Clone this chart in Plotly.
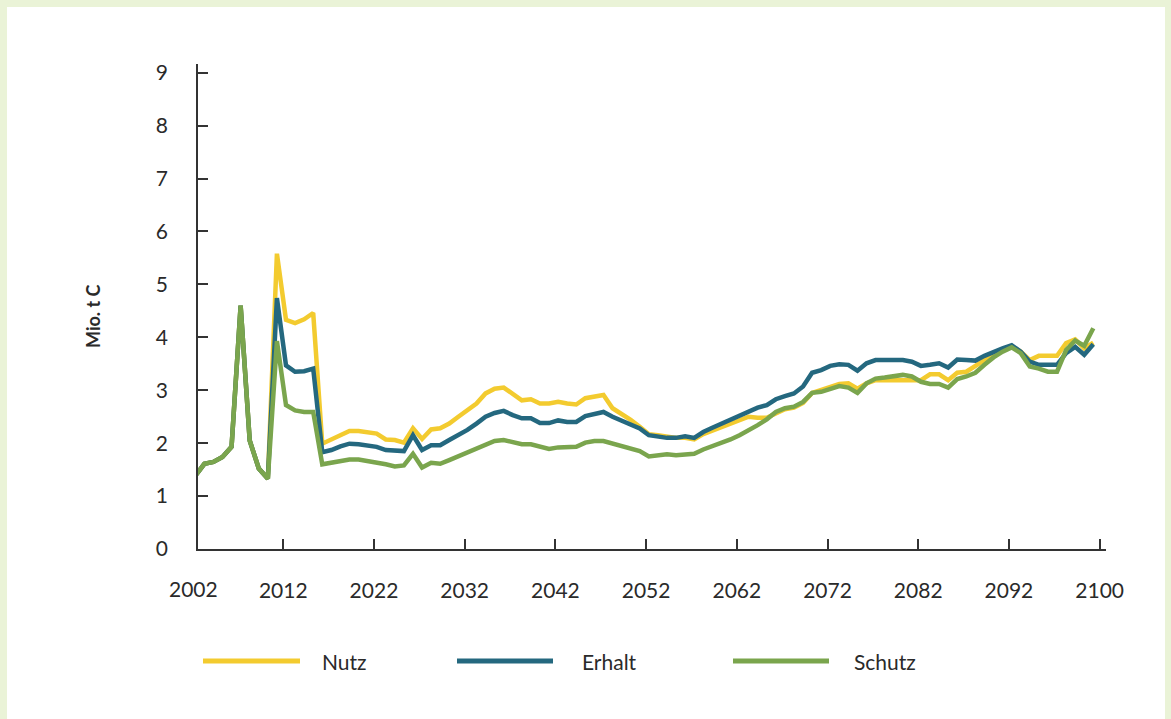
import plotly.graph_objects as go

years = list(range(2002, 2102))

nutz = [1.38, 1.61, 1.645, 1.74, 1.93, 4.60, 2.05, 1.52, 1.33,
        5.58, 4.33, 4.27, 4.34, 4.46, 1.99, 2.07, 2.15, 2.23, 2.23, 2.21,
        2.18, 2.07, 2.06, 2.01, 2.28, 2.08, 2.26, 2.28, 2.37, 2.50,
        2.62, 2.75, 2.94, 3.03, 3.05, 2.93, 2.81, 2.83, 2.75, 2.75,
        2.78, 2.75, 2.73, 2.85, 2.89, 2.91, 2.66, 2.56, 2.44, 2.31,
        2.17, 2.15, 2.12, 2.10, 2.10, 2.07, 2.17, 2.24, 2.31, 2.38,
        2.45, 2.50, 2.48, 2.48, 2.56, 2.64, 2.67, 2.76, 2.95, 3.00,
        3.07, 3.12, 3.13, 3.03, 3.13, 3.19, 3.19, 3.19, 3.21, 3.19,
        3.19, 3.30, 3.30, 3.19, 3.33, 3.35, 3.45, 3.57, 3.70, 3.77,
        3.83, 3.73, 3.57, 3.65, 3.65, 3.65, 3.89, 3.96, 3.79, 3.90]

erhalt = [1.38, 1.61, 1.645, 1.74, 1.93, 4.60, 2.05, 1.52, 1.33,
          4.74, 3.47, 3.35, 3.36, 3.41, 1.83, 1.87, 1.94, 1.99, 1.98, 1.95,
          1.93, 1.87, 1.87, 1.85, 2.15, 1.87, 1.96, 1.96, 2.06, 2.15,
          2.25, 2.37, 2.50, 2.57, 2.61, 2.53, 2.47, 2.47, 2.38, 2.38,
          2.43, 2.40, 2.40, 2.51, 2.55, 2.59, 2.50, 2.42, 2.36, 2.28,
          2.15, 2.12, 2.10, 2.10, 2.13, 2.10, 2.21, 2.29, 2.37, 2.45,
          2.53, 2.60, 2.67, 2.72, 2.83, 2.89, 2.94, 3.07, 3.33, 3.38,
          3.46, 3.49, 3.48, 3.37, 3.51, 3.57, 3.57, 3.58, 3.57, 3.54,
          3.46, 3.48, 3.51, 3.43, 3.58, 3.57, 3.56, 3.65, 3.73, 3.79,
          3.85, 3.73, 3.54, 3.48, 3.48, 3.48, 3.70, 3.82, 3.67, 3.87]

schutz = [1.38, 1.61, 1.645, 1.74, 1.93, 4.60, 2.05, 1.52, 1.33,
          3.93, 2.72, 2.62, 2.59, 2.59, 1.60, 1.63, 1.66, 1.69, 1.69, 1.66,
          1.645, 1.60, 1.56, 1.58, 1.80, 1.54, 1.63, 1.61, 1.68, 1.75,
          1.84, 1.89, 1.98, 2.04, 2.06, 2.02, 1.98, 1.98, 1.93, 1.89,
          1.92, 1.93, 1.93, 2.01, 2.04, 2.04, 1.99, 1.94, 1.90, 1.85,
          1.75, 1.77, 1.79, 1.77, 1.79, 1.80, 1.88, 1.94, 1.99, 2.07,
          2.15, 2.24, 2.34, 2.45, 2.59, 2.66, 2.69, 2.78, 2.95, 2.97,
          3.02, 3.08, 3.05, 2.95, 3.13, 3.22, 3.24, 3.27, 3.29, 3.26,
          3.16, 3.12, 3.12, 3.05, 3.21, 3.26, 3.33, 3.48, 3.62, 3.73,
          3.81, 3.70, 3.45, 3.41, 3.35, 3.35, 3.76, 3.94, 3.84, 4.17]

tick_pos = [2011.7, 2021.7, 2031.7, 2041.7, 2051.7, 2061.7, 2071.7, 2081.7, 2091.7, 2101.7]
tick_text = ["2012", "2022", "2032", "2042", "2052", "2062", "2072", "2082", "2092", "2100"]
first_tick_text = "2002"

y_ticks = [0, 1, 2, 3, 4, 5, 6, 7, 8, 9]

series = [("Nutz", nutz, "#F3CB2F"), ("Erhalt", erhalt, "#24687F"), ("Schutz", schutz, "#7AA54D")]

FONT = "Lato, 'Open Sans', sans-serif"
TXT = "#2a2a2a"

fig = go.Figure()
for name, vals, col in series:
    fig.add_trace(go.Scatter(x=years, y=vals, name=name, mode="lines",
                             line=dict(color=col, width=4.5), showlegend=False))

W, H = 1171, 719
L, R, T, B = 198, 1106, 64, 549

def px2paper_x(px):
    return (px - L) / (R - L)

def px2paper_y(py):
    return (B - py) / (B - T)

shapes = []
shapes.append(dict(type="rect", xref="paper", yref="paper", layer="below",
                   x0=px2paper_x(7), x1=px2paper_x(1165), y0=px2paper_y(719), y1=px2paper_y(7),
                   fillcolor="white", line=dict(width=0)))

annotations = []
leg = [(203, 300, 320), (457, 553, 580), (733, 829, 852)]
for (x0, x1, xt), (name, _, col) in zip(leg, series):
    shapes.append(dict(type="line", xref="paper", yref="paper",
                       x0=px2paper_x(x0), x1=px2paper_x(x1), y0=px2paper_y(661), y1=px2paper_y(661),
                       line=dict(color=col, width=5)))
    annotations.append(dict(xref="paper", yref="paper", x=px2paper_x(xt), y=px2paper_y(661),
                            text=name, showarrow=False, xanchor="left", yanchor="middle",
                            font=dict(family=FONT, size=21, color=TXT)))

annotations.append(dict(xref="paper", yref="paper", x=px2paper_x(193), y=px2paper_y(574),
                        text=first_tick_text, showarrow=False, xanchor="center", yanchor="top",
                        font=dict(family=FONT, size=21, color=TXT)))
annotations.append(dict(xref="paper", yref="paper", x=px2paper_x(93), y=px2paper_y(316),
                        text="<b>Mio. t C</b>", showarrow=False, textangle=-90,
                        xanchor="center", yanchor="middle",
                        font=dict(family=FONT, size=18, color=TXT)))

fig.update_layout(
    width=W, height=H,
    margin=dict(l=L, r=W - R, t=T, b=H - B),
    paper_bgcolor="#EAF3D7",
    plot_bgcolor="white",
    shapes=shapes,
    annotations=annotations,
    xaxis=dict(range=[2002.3, 2102.4], tickmode="array", tickvals=tick_pos, ticktext=tick_text,
               showgrid=False, zeroline=False, showline=True, linecolor="#333", linewidth=1.5,
               ticks="inside", ticklen=10, tickwidth=1.5, tickcolor="#333",
               ticklabelstandoff=22,
               tickfont=dict(family=FONT, size=21, color=TXT)),
    yaxis=dict(range=[0, 9.165], tickmode="array", tickvals=y_ticks,
               showgrid=False, zeroline=False, showline=True, linecolor="#333", linewidth=1.5,
               ticks="inside", ticklen=10, tickwidth=1.5, tickcolor="#333",
               ticklabelstandoff=24,
               tickfont=dict(family=FONT, size=21, color=TXT)),
)

fig.write_html("out.html", config={"displayModeBar": False},
               post_script="document.body.style.margin='0';document.body.style.overflow='hidden';")
